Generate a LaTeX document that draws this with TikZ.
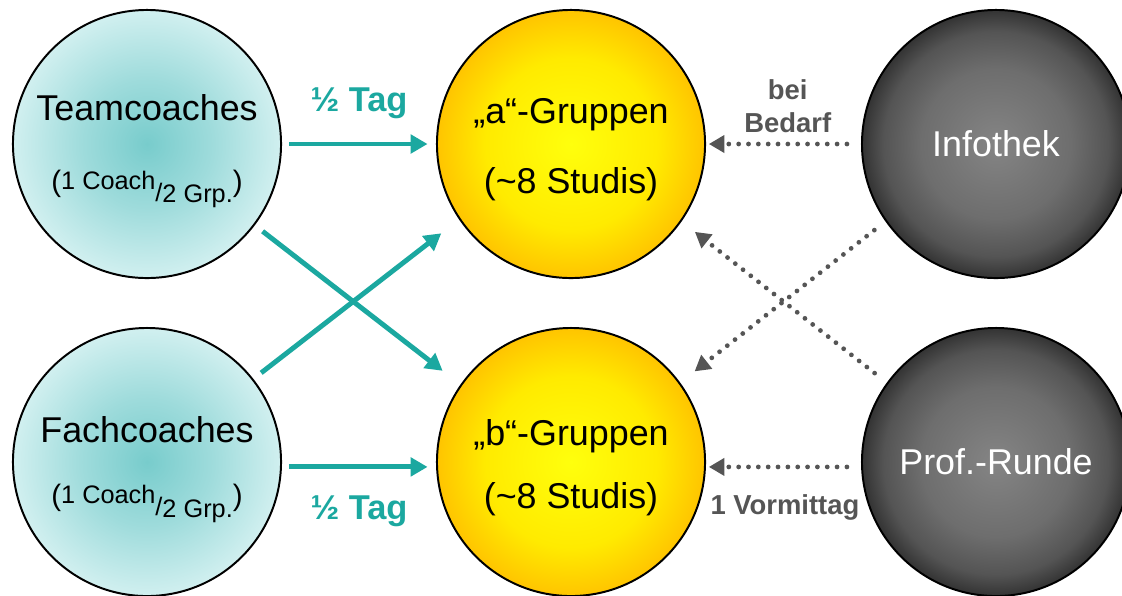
\documentclass[tikz,border=0pt]{standalone}
\usepackage{fontspec}
\setmainfont{Liberation Sans}
\usetikzlibrary{arrows.meta}

\definecolor{coachteal}{RGB}{27,168,160}
\definecolor{punktgrau}{RGB}{85,85,85}

% Kugel-Schattierungen
\pgfdeclareradialshading{tuerkiskugel}{\pgfpoint{0bp}{0bp}}{rgb(0bp)=(0.47,0.80,0.80); rgb(12bp)=(0.62,0.86,0.86); rgb(25bp)=(0.82,0.94,0.94); rgb(50bp)=(0.82,0.94,0.94)}
\pgfdeclareradialshading{gelbkugel}{\pgfpoint{0bp}{0bp}}{rgb(0bp)=(1,1,0.05); rgb(16bp)=(1,0.92,0); rgb(25bp)=(1,0.77,0); rgb(50bp)=(1,0.77,0)}
\pgfdeclareradialshading{graukugel}{\pgfpoint{0bp}{0bp}}{rgb(0bp)=(0.52,0.52,0.52); rgb(14bp)=(0.43,0.43,0.43); rgb(21bp)=(0.33,0.33,0.33); rgb(25bp)=(0.2,0.2,0.2); rgb(50bp)=(0.2,0.2,0.2)}

\newcommand{\probruch}{{\fontsize{21}{21}\selectfont(}\raisebox{1.5pt}{\fontsize{18}{18}\selectfont 1 Coach}\raisebox{-7pt}{\fontsize{18}{18}\selectfont /}\raisebox{-8pt}{\fontsize{18}{18}\selectfont 2 Grp.}{\fontsize{21}{21}\selectfont)}}
\newcommand{\oben}{\rule{0pt}{25.6pt}}
\newcommand{\unten}{\rule{0pt}{26.6pt}}

\tikzset{
	kreis/.style = {circle, draw = black, line width = 1.4pt, minimum size = 6.7cm,
		inner sep = 0pt, align = center, font = \fontsize{25.5}{50}\selectfont},
	kreisunten/.style = {font = \fontsize{25.5}{45}\selectfont},
	coach/.style = {kreis, shade, shading = tuerkiskugel},
	gruppe/.style = {kreis, shade, shading = gelbkugel},
	extern/.style = {kreis, shade, shading = graukugel, text = white},
	pfeil/.style = {draw = coachteal, line width = 3.5pt, -{Triangle[length=12pt, width=13pt]}},
	punktpfeil/.style = {draw = punktgrau, line width = 3.4pt, line cap = round,
		dash pattern = on 0pt off 7pt, -{Triangle[length=11pt, width=12pt]}},
	tagtext/.style = {text = coachteal, inner sep = 0pt, font = \fontsize{24.5}{29}\selectfont\bfseries},
	grautext/.style = {text = punktgrau, inner sep = 0pt, align = center,
		font = \fontsize{19.5}{24}\selectfont\bfseries},
}

\begin{document}
\begin{tikzpicture}[x = 0.025cm, y = -0.025cm]
		\useasboundingbox (0,0) rectangle (1122,595);
		% Coaches
		\node [coach] (team) at (147,144) {\rule{0pt}{29pt}Teamcoaches\\\probruch};
		\node [coach, kreisunten] (fach) at (147,462) {\rule{0pt}{29pt}Fachcoaches\\\probruch};
		% Gruppen
		\node [gruppe] (agrp) at (571,144) {\oben„a“-Gruppen\\(\textasciitilde8 Studis)};
		\node [gruppe, kreisunten] (bgrp) at (571,462) {\unten„b“-Gruppen\\(\textasciitilde8 Studis)};
		% Infothek, Prof.-Runde
		\node [extern] (info) at (996,144) {Infothek};
		\node [extern] (prof) at (996,462) {Prof.-Runde};
		% Coaches -> Gruppen
		\draw [pfeil, shorten <= 5pt, shorten >= 6pt] (team)
		-- node [tagtext, anchor = base, yshift = 23pt] (tagoben) {½ Tag} (agrp)
		;
		\draw [pfeil, shorten <= 5pt, shorten >= 6pt] ([yshift=-3.5pt]fach.east)
		-- node [tagtext, anchor = base, yshift = -37.5pt] (tagunten) {½ Tag} ([yshift=-3.5pt]bgrp.west)
		;
		\draw [pfeil, shorten <= 7pt, shorten >= 16pt] (team.-37) -- (bgrp.145);
		\draw [pfeil, shorten <= 7pt, shorten >= 16pt] (fach.38) -- (agrp.214);
		% Infothek, Prof.-Runde -> Gruppen
		\draw [punktpfeil, shorten <= 10pt, shorten >= 2pt] (info)
		-- node [grautext, anchor = south, xshift = 3pt, yshift = 6pt] (bedarf) {bei\\Bedarf} (agrp)
		;
		\draw [punktpfeil, shorten <= 10pt, shorten >= 2pt] ([yshift=-3.5pt]prof.west)
		-- node [grautext, anchor = base, xshift = 1pt, yshift = -34pt] (vormittag) {1 Vormittag} ([yshift=-3.5pt]bgrp.east)
		;
		\draw [punktpfeil, shorten <= 10pt, shorten >= 13pt] (info.215) -- (bgrp.36);
		\draw [punktpfeil, shorten <= 11pt, shorten >= 12pt] (prof.144) -- (agrp.-35);
	\end{tikzpicture}
\end{document}
